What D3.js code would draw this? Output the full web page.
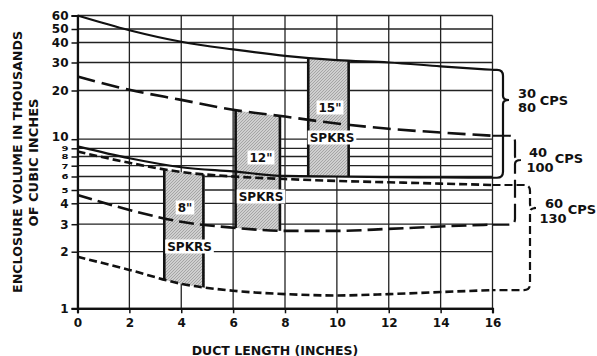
<!DOCTYPE html>
<html>
<head>
<meta charset="utf-8">
<script src="https://cdn.jsdelivr.net/npm/d3@7"></script>
<style>
  html, body { margin: 0; padding: 0; background: #fff; }
  svg { display: block; }
  text { font-family: "DejaVu Sans", sans-serif; font-weight: bold; fill: #111; }
</style>
</head>
<body>
<svg id="chart" width="597" height="356"></svg>
<script>
// Duct length (inches) at which the curves were read
const ductLength = [0, 2, 4, 6, 8, 10, 12, 14, 16];

// Enclosure volume, thousands of cubic inches, one series per tuning frequency
const cps30  = [60, 49, 40.5, 36.2, 33, 31, 30, 28.4, 27];
const cps40  = [24.5, 20.2, 17.5, 15.2, 13.8, 12.5, 11.6, 11, 10.5];
const cps60  = [8.6, 7.3, 6.4, 6.0, 5.8, 5.65, 5.55, 5.45, 5.35];
const cps80  = [9.2, 7.8, 6.85, 6.45, 6.05, 6.0, 5.95, 5.92, 5.9];
const cps100 = [4.6, 3.65, 3.1, 2.85, 2.72, 2.72, 2.8, 2.9, 2.98];
const cps130 = [1.88, 1.6, 1.35, 1.24, 1.19, 1.17, 1.19, 1.22, 1.25];

// Axis ticks
const xTicks = [0, 2, 4, 6, 8, 10, 12, 14, 16];
const yTicks = [1, 2, 3, 4, 5, 6, 7, 8, 9, 10, 20, 30, 40, 50, 60];

// Speaker bands: size, duct length span, and the curve pair bounding it
const speakerSizes = ['8"', '12"', '15"'];
const speakerFrom  = [3.3, 6.05, 8.85];
const speakerTo    = [4.9, 7.85, 10.5];

// Bracket groups (upper / lower frequency)
const groupUpper = ["30", "40", "60"];
const groupLower = ["80", "100", "130"];

const svg = d3.select("#chart");
const ink = "#111";

// ---- scales ----
const x = d3.scaleLinear().domain([0, 16]).range([77.5, 492.5]);
// the printed grid is a hand-ruled log grid; rulings sit at these heights
const yRulings = [308.3, 251.7, 224.2, 203.3, 190, 176.5, 165.7, 156.5, 148.3, 139.2, 90.5, 62.5, 42.5, 29, 15.5];
const y = d3.scaleLog().domain(yTicks).range(yRulings);

const [x0, x1] = x.range();
const yBot = y(1), yTop = y(60);

// ---- grid ----
const grid = svg.append("g").attr("stroke", "#222").attr("stroke-width", 1.3);
grid.selectAll("line.h").data(yTicks).join("line")
  .attr("x1", x0).attr("x2", x1)
  .attr("y1", d => y(d)).attr("y2", d => y(d));
grid.selectAll("line.v").data(xTicks).join("line")
  .attr("y1", yTop).attr("y2", yBot)
  .attr("x1", d => x(d)).attr("x2", d => x(d));

// ---- axes ----
const yAxis = svg.append("g").attr("transform", `translate(${x0},0)`)
  .call(d3.axisLeft(y).tickValues(yTicks).tickSize(6).tickPadding(3).tickFormat(d3.format("d")));
const xAxis = svg.append("g").attr("transform", `translate(0,${yBot})`)
  .call(d3.axisBottom(x).tickValues(xTicks).tickSize(5).tickPadding(5).tickFormat(d3.format("d")));
[yAxis, xAxis].forEach(g => {
  g.select(".domain").attr("stroke", ink).attr("stroke-width", 2.2);
  g.selectAll(".tick line").attr("stroke", ink).attr("stroke-width", 1.5);
  g.selectAll(".tick text").attr("fill", ink)
    .style("font-family", '"DejaVu Sans", sans-serif').style("font-weight", "bold").style("font-size", "12px");
});
// the crowded rulings between 5 and 9 carry squat, condensed figures
yAxis.selectAll(".tick text").filter(d => d >= 5 && d <= 9)
  .style("font-size", "10px").attr("transform", "scale(1,0.72)");
yAxis.selectAll(".tick text").filter(d => d === 10).attr("dy", "0.1em");

// ---- speaker bands (area between the two curves of a pair) ----
const defs = svg.append("defs");
const pattern = defs.append("pattern")
  .attr("id", "hatch").attr("patternUnits", "userSpaceOnUse")
  .attr("width", 3).attr("height", 3);
pattern.append("rect").attr("width", 3).attr("height", 3).attr("fill", "#cfcfcf");
pattern.append("path").attr("d", "M0,3 L3,0").attr("stroke", "#888").attr("stroke-width", 0.6);

const curveType = d3.curveMonotoneX;
const bandPairs = [[cps60, cps130], [cps40, cps100], [cps30, cps80]];

bandPairs.forEach(([up, lo], i) => {
  const pts = ductLength.map((d, j) => ({ d, up: up[j], lo: lo[j] }));
  const area = d3.area().curve(curveType)
    .x(p => x(p.d)).y0(p => y(p.lo)).y1(p => y(p.up));
  defs.append("clipPath").attr("id", `span${i}`)
    .append("rect")
    .attr("x", x(speakerFrom[i])).attr("width", x(speakerTo[i]) - x(speakerFrom[i]))
    .attr("y", 0).attr("height", 356);
  defs.append("clipPath").attr("id", `band${i}`)
    .append("path").attr("d", area(pts));
  svg.append("path").attr("d", area(pts))
    .attr("fill", "url(#hatch)").attr("clip-path", `url(#span${i})`);
  const edges = svg.append("g").attr("clip-path", `url(#band${i})`);
  [speakerFrom[i], speakerTo[i]].forEach((v, k) => {
    const xx = x(v) + (k === 0 ? 1.2 : -1.2);
    edges.append("line").attr("x1", xx).attr("x2", xx).attr("y1", yTop).attr("y2", yBot)
      .attr("stroke", ink).attr("stroke-width", 2.6);
  });
});

// ---- curves ----
const line = d3.line().curve(curveType).x((v, j) => x(ductLength[j])).y(v => y(v));
const series = [
  { v: cps30,  dash: null },
  { v: cps80,  dash: null },
  { v: cps40,  dash: "18,7" },
  { v: cps100, dash: "15,6" },
  { v: cps60,  dash: "8,4" },
  { v: cps130, dash: "8,4" }
];
series.forEach(s => {
  svg.append("path").attr("d", line(s.v))
    .attr("fill", "none").attr("stroke", ink)
    .attr("stroke-width", s.dash ? 2.6 : 2.2)
    .attr("stroke-dasharray", s.dash);
});

// ---- band labels ----
const labelAt = [
  { size: [185, 207.5], spk: [189.5, 246.5] },
  { size: [261, 157.5], spk: [261, 196.5] },
  { size: [330, 107.5], spk: [332, 137.5] }
];
speakerSizes.forEach((s, i) => {
  const L = labelAt[i];
  [[s, L.size], ["SPKRS", L.spk]].forEach(([t, [cx, cy]]) => {
    const g = svg.append("g");
    const txt = g.append("text").attr("x", cx).attr("y", cy + 4.5)
      .attr("text-anchor", "middle").style("font-size", "12px").text(t);
    const bb = txt.node().getBBox();
    g.insert("rect", "text").attr("x", bb.x - 2).attr("y", cy - 7).attr("width", bb.width + 4).attr("height", 14)
      .attr("fill", "#fff");
  });
});

// ---- brackets grouping each curve pair ----
function brace(g, xs, xv, xt, yt, yb, ym, dash) {
  const r = 6;
  const p = d3.path();
  p.moveTo(xs, yt);
  p.lineTo(xv - r, yt);
  p.quadraticCurveTo(xv, yt, xv, yt + r);
  p.lineTo(xv, ym - 4);
  p.quadraticCurveTo(xv, ym, xt, ym);
  p.quadraticCurveTo(xv, ym, xv, ym + 4);
  p.lineTo(xv, yb - r);
  p.quadraticCurveTo(xv, yb, xv - r, yb);
  p.lineTo(xs, yb);
  g.append("path").attr("d", p.toString()).attr("fill", "none")
    .attr("stroke", ink).attr("stroke-width", 2.2).attr("stroke-dasharray", dash);
}
const bg = svg.append("g");
const ends = [[cps30, cps80], [cps40, cps100], [cps60, cps130]];
const braceX = [503, 515, 530];
const braceTipY = [100, 160, 208];
const braceDash = [null, "18,6", "8,4"];
ends.forEach(([a, b], i) => {
  brace(bg, x1, braceX[i], braceX[i] + 6, y(a[a.length - 1]), y(b[b.length - 1]), braceTipY[i], braceDash[i]);
});
const groupLabel = [
  { n: [527, 93, 527, 107], c: [554, 100] },
  { n: [538, 152, 540, 167], c: [569, 158] },
  { n: [554, 203, 553, 218], c: [582, 209] }
];
groupUpper.forEach((u, i) => {
  const G = groupLabel[i];
  bg.append("text").attr("x", G.n[0]).attr("y", G.n[1] + 5).attr("text-anchor", "middle").style("font-size", "13px").text(u);
  bg.append("text").attr("x", G.n[2]).attr("y", G.n[3] + 5).attr("text-anchor", "middle").style("font-size", "13px").text(groupLower[i]);
  bg.append("text").attr("x", G.c[0]).attr("y", G.c[1] + 5).attr("text-anchor", "middle").style("font-size", "13px").text("CPS");
});

// ---- axis titles ----
svg.append("text").attr("x", 275).attr("y", 354.5).attr("text-anchor", "middle")
  .style("font-size", "12.5px").text("DUCT LENGTH (INCHES)");
svg.append("text").attr("transform", "translate(22,162) rotate(-90)").attr("text-anchor", "middle")
  .style("font-size", "13px").attr("textLength", 262).attr("lengthAdjust", "spacingAndGlyphs")
  .text("ENCLOSURE VOLUME IN THOUSANDS");
svg.append("text").attr("transform", "translate(37.5,162.5) rotate(-90)").attr("text-anchor", "middle")
  .style("font-size", "13px").text("OF CUBIC INCHES");
</script>
</body>
</html>
